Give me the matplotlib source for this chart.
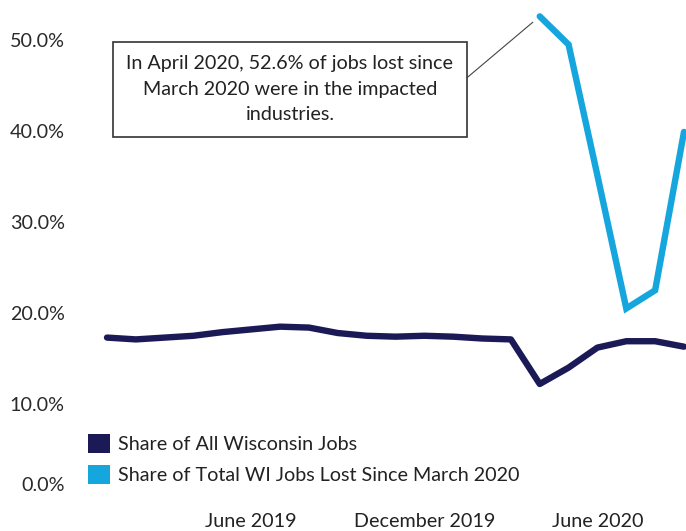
import numpy as np
import matplotlib
matplotlib.use("Agg")
import matplotlib.pyplot as plt
import matplotlib.transforms as mtransforms
from matplotlib.patches import Patch

# === Data ===
months = ["Jan 2019", "Feb 2019", "Mar 2019", "Apr 2019", "May 2019", "Jun 2019",
          "Jul 2019", "Aug 2019", "Sep 2019", "Oct 2019", "Nov 2019", "Dec 2019",
          "Jan 2020", "Feb 2020", "Mar 2020", "Apr 2020", "May 2020", "Jun 2020",
          "Jul 2020", "Aug 2020", "Sep 2020"]
share_all_jobs = [17.3, 17.1, 17.3, 17.5, 17.9, 18.2, 18.5, 18.4, 17.8, 17.5,
                  17.4, 17.5, 17.4, 17.2, 17.1, 12.2, 14.0, 16.2, 16.9, 16.9, 16.3]
share_jobs_lost = [np.nan] * 15 + [52.6, 49.5, 35.1, 20.5, 22.5, 39.9]

tick_months = ["Jun 2019", "Dec 2019", "Jun 2020"]
tick_labels = ["June 2019", "December 2019", "June 2020"]
y_ticks = [0, 10, 20, 30, 40, 50]

series_names = ["Share of All Wisconsin Jobs",
                "Share of Total WI Jobs Lost Since March 2020"]
navy = "#1b1a57"
light_blue = "#15a6dd"

plt.rcParams['font.family'] = ['Lato', 'DejaVu Sans']
FS = 14.2

x = np.arange(len(months))

# === Figure ===
fig = plt.figure(figsize=(6.86, 5.31), dpi=100)
ax = fig.add_axes([80 / 686, 36 / 531, 606 / 686, 495 / 531])

ax.plot(x, share_all_jobs, color=navy, lw=4.6, solid_capstyle="round",
        solid_joinstyle="round", clip_on=False)
ax.plot(x, share_jobs_lost, color=light_blue, lw=4.6, solid_capstyle="round",
        solid_joinstyle="miter", clip_on=False)

ax.set_xlim(-0.936, 20.07)
ax.set_ylim(0, 54.4)

ax.set_xticks([months.index(m) for m in tick_months])
ax.set_xticklabels(tick_labels, fontsize=FS, color="#222222")
ax.set_yticks(y_ticks)
ax.set_yticklabels([f"{v:.1f}%" for v in y_ticks], fontsize=FS, color="#2a2a2a")
ax.tick_params(axis="both", length=0)
ax.tick_params(axis="x", pad=13)
ax.tick_params(axis="y", pad=11)

# 0.0% label sits a bit higher in the original
lbl0 = ax.get_yticklabels()[0]
lbl0.set_transform(lbl0.get_transform() +
                   mtransforms.ScaledTranslation(0, 11 / 100, fig.dpi_scale_trans))

for s in ax.spines.values():
    s.set_visible(False)

# === Annotation ===
peak_i = int(np.nanargmax(share_jobs_lost))
ax.annotate("In April 2020, 52.6% of jobs lost since\nMarch 2020 were in the impacted\nindustries.",
            xy=(peak_i, share_jobs_lost[peak_i]), xytext=(6.34, 44.6),
            ha="center", va="center", fontsize=FS, color="#222222",
            linespacing=1.62,
            bbox=dict(boxstyle="square,pad=0.68", fc="white", ec="#333333", lw=1.2),
            arrowprops=dict(arrowstyle="-", color="#444444", lw=0.8,
                            shrinkA=0, shrinkB=6.5, relpos=(1.0, 0.5)))

# === Legend ===
handles = [Patch(facecolor=navy, edgecolor="none"),
           Patch(facecolor=light_blue, edgecolor="none")]
ax.legend(handles, series_names, loc="upper left", bbox_to_anchor=(0.0, 0.14),
          frameon=False, fontsize=FS, handlelength=1.12, handleheight=1.12,
          handletextpad=0.4, labelspacing=0.62, borderaxespad=0, labelcolor="#222222")

fig.savefig("out.png", dpi=100)
